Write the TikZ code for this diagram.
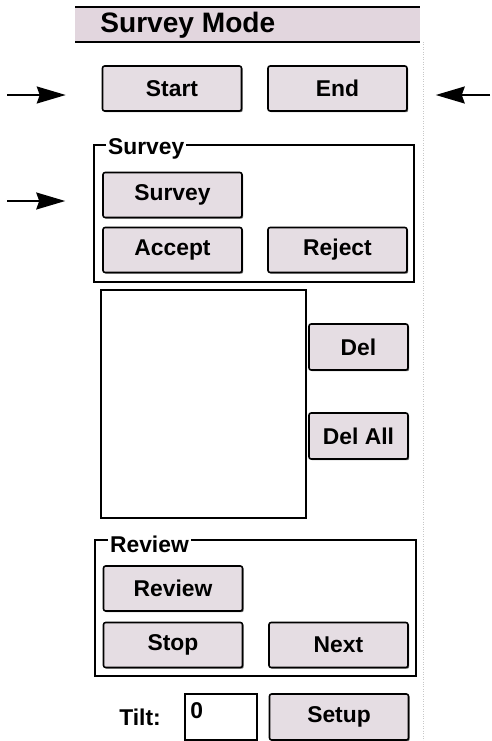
\documentclass[tikz,border=0pt]{standalone}
\usepackage{fontspec}
\setmainfont{Liberation Sans}
\usetikzlibrary{arrows.meta,shadows}
\definecolor{btnfill}{RGB}{229,221,227}
\definecolor{barfill}{RGB}{226,214,222}
\definecolor{edgegray}{RGB}{200,200,200}
\tikzset{
  btn/.style={draw, fill=btnfill, line width=0.9pt, rounded corners=1.2pt,
    minimum width=2.78cm, minimum height=0.9cm, inner sep=0pt,
    font=\bfseries\fontsize{13}{15}\selectfont,
    drop shadow={shadow xshift=0.7pt, shadow yshift=-0.7pt, fill=black!70, opacity=0.8}},
  delbtn/.style={btn, minimum width=1.98cm, minimum height=0.92cm},
  grp/.style={draw, line width=0.8pt},
  grplabel/.style={fill=white, inner sep=1pt, anchor=west, font=\bfseries\fontsize{13}{15}\selectfont},
  pointer/.style={-{Stealth[length=0.58cm,width=0.34cm,inset=0.06cm]}, line width=1pt}
}
\begin{document}
\begin{tikzpicture}[x=0.02cm,y=-0.02cm]
\fill[white] (0,0) rectangle (491,741);
\useasboundingbox (0,0) rectangle (491,741);
\draw[edgegray, densely dotted] (423,42) -- (423,741);
\fill[barfill] (75,7) rectangle (420,42);
\draw[line width=0.8pt] (75,7) -- (420,7);
\draw[line width=1.4pt] (75,42) -- (420,42);
\node[anchor=west, inner sep=0pt, font=\bfseries\fontsize{16}{18}\selectfont] (title) at (100,25) {Survey Mode};

\node[btn] (start) at (172,88.5) {Start};
\node[btn] (end) at (337.5,88.5) {End};

\draw[grp] (94,145) rectangle (414,282);
\node[grplabel] (surveylbl) at (106,149) {Survey};
\node[btn] (survey) at (172.5,195) {Survey};
\node[btn] (accept) at (172.5,250) {Accept};
\node[btn] (reject) at (337.5,250) {Reject};

\draw[line width=0.9pt] (101,290) rectangle (306,518);
\node[delbtn] (del) at (358.5,347) {Del};
\node[delbtn] (delall) at (358.5,436) {Del All};

\draw[grp] (95,540) rectangle (416,676);
\node[grplabel] (reviewlbl) at (108,544) {Review};
\node[btn] (review) at (173,588.5) {Review};
\node[btn] (stop) at (173,645) {Stop};
\node[btn] (next) at (338.5,645) {Next};

\node[font=\bfseries\fontsize{13}{15}\selectfont] (tilt) at (140,717) {Tilt:};
\node[draw, line width=0.9pt, minimum width=1.44cm, minimum height=0.92cm] (tiltbox) at (221,717) {};
\node[anchor=west, inner sep=0pt, font=\bfseries\fontsize{13}{15}\selectfont] (tiltval) at (190,711) {0};
\node[btn, minimum height=0.92cm] (setup) at (339,717) {Setup};

\coordinate (arrA) at (7,95);
\coordinate (arrB) at (490,95);
\coordinate (arrC) at (7,201);
\draw[pointer, shorten >=0.72cm] (arrA) -- (arrA -| start.west);
\draw[pointer, shorten >=0.56cm] (arrB) -- (arrB -| end.east);
\draw[pointer, shorten >=0.74cm] (arrC) -- (arrC -| survey.west);
\end{tikzpicture}
\end{document}
